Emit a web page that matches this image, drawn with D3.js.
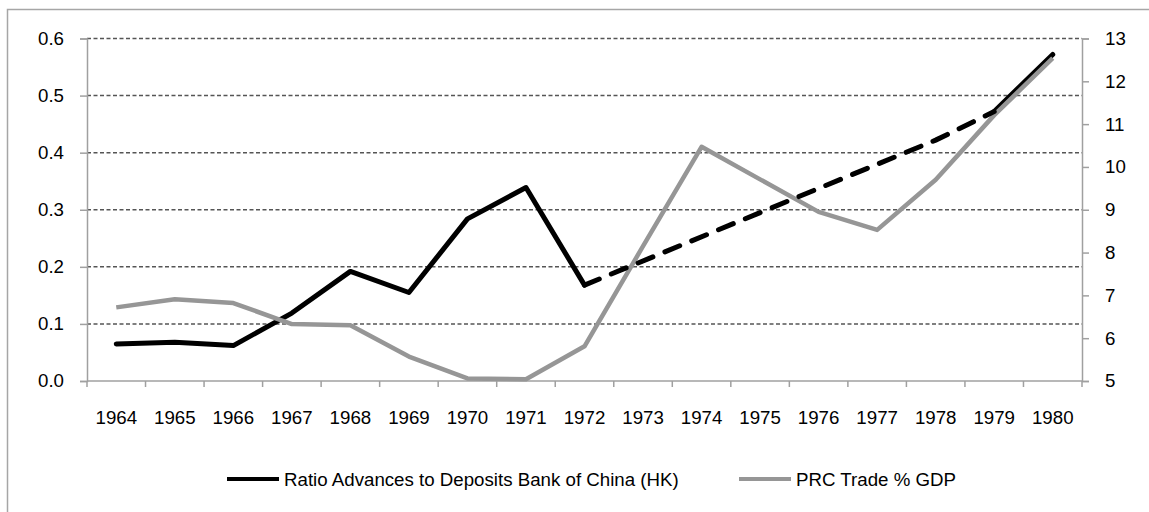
<!DOCTYPE html>
<html>
<head>
<meta charset="utf-8">
<script src="https://cdn.jsdelivr.net/npm/d3@7"></script>
<style>
  body { margin: 0; background: #fff; }
  text { font-family: "Liberation Sans", Arial, sans-serif; font-size: 18.7px; fill: #000; }
</style>
</head>
<body>
<div id="chart"></div>
<script>
// Data
const years = ["1964","1965","1966","1967","1968","1969","1970","1971","1972","1973","1974","1975","1976","1977","1978","1979","1980"];
const ratioAdvances = [0.065, 0.068, 0.062, 0.119, 0.192, 0.155, 0.284, 0.339, 0.168, null, null, null, null, null, 0.422, 0.472, 0.572];
const prcTrade = [6.72, 6.91, 6.82, 6.33, 6.30, 5.57, 5.06, 5.04, 5.81, 8.15, 10.47, 9.71, 8.95, 8.53, 9.70, 11.21, 12.54];
const leftTicks = [0, 0.1, 0.2, 0.3, 0.4, 0.5, 0.6];
const rightTicks = [5, 6, 7, 8, 9, 10, 11, 12, 13];
const dashedFrom = "1972", dashedTo = "1979";
const seriesNames = ["Ratio Advances to Deposits Bank of China (HK)", "PRC Trade % GDP"];

const W = 1149, H = 512;
const margin = { top: 38.5, right: 67, bottom: 131, left: 87 };

const svg = d3.select("#chart").append("svg")
  .attr("width", W).attr("height", H);

// outer chart border
svg.append("rect")
  .attr("x", 7.5).attr("y", 9.5)
  .attr("width", 1160).attr("height", 520)
  .attr("fill", "none").attr("stroke", "#a6a6a6").attr("stroke-width", 1.5);

const x = d3.scaleBand().domain(years)
  .range([margin.left, W - margin.right]);
const yL = d3.scaleLinear().domain([0, 0.6])
  .range([H - margin.bottom, margin.top]);
const yR = d3.scaleLinear().domain([5, 13])
  .range([H - margin.bottom, margin.top]);

// dashed gridlines
svg.append("g")
  .selectAll("line")
  .data(leftTicks.filter(d => d > 0))
  .enter().append("line")
    .attr("x1", margin.left).attr("x2", W - margin.right)
    .attr("y1", d => yL(d)).attr("y2", d => yL(d))
    .attr("stroke", "#555").attr("stroke-width", 1.5)
    .attr("stroke-dasharray", "4,2.5");

// left axis
const axL = svg.append("g")
  .attr("transform", `translate(${margin.left},0)`)
  .call(d3.axisLeft(yL).tickValues(leftTicks).tickFormat(d3.format(".1f")).tickSize(7).tickPadding(16));
// right axis
const axR = svg.append("g")
  .attr("transform", `translate(${W - margin.right},0)`)
  .call(d3.axisRight(yR).tickValues(rightTicks).tickSize(7).tickPadding(16));
// bottom axis, ticks between categories
const axB = svg.append("g")
  .attr("transform", `translate(0,${H - margin.bottom})`)
  .call(d3.axisBottom(x).tickSize(0).tickPadding(30));

svg.append("g")
  .selectAll("line")
  .data(years.concat(["end"]))
  .enter().append("line")
    .attr("x1", (d, i) => margin.left + i * x.step())
    .attr("x2", (d, i) => margin.left + i * x.step())
    .attr("y1", H - margin.bottom).attr("y2", H - margin.bottom + 6)
    .attr("stroke", "#a0a0a0").attr("stroke-width", 1.5);

[axL, axR, axB].forEach(a => {
  a.select(".domain").attr("stroke", "#a0a0a0").attr("stroke-width", 1.5);
  a.selectAll(".tick line").attr("stroke", "#a0a0a0").attr("stroke-width", 1.5);
  a.selectAll("text").style("font-size", "18.7px").attr("fill", "#000");
});
axB.select(".domain").attr("d", `M${margin.left},0H${W - margin.right}`);

const cx = d => x(d.year) + x.bandwidth() / 2;
const blackData = years.map((yr, i) => ({ year: yr, v: ratioAdvances[i] }));
const grayData = years.map((yr, i) => ({ year: yr, v: prcTrade[i] }));

// solid black parts
const solidLine = d3.line()
  .defined(d => d.v != null && (d.year <= dashedFrom || d.year >= dashedTo))
  .x(cx).y(d => yL(d.v));
svg.append("path")
  .datum(blackData)
  .attr("d", solidLine)
  .attr("fill", "none").attr("stroke", "#000").attr("stroke-width", 5)
  .attr("stroke-linejoin", "round").attr("stroke-linecap", "round");

// gray series
svg.append("path")
  .datum(grayData)
  .attr("d", d3.line().x(cx).y(d => yR(d.v)))
  .attr("fill", "none").attr("stroke", "#969696").attr("stroke-width", 4.5)
  .attr("stroke-linejoin", "round");

// dashed black part across the gap
svg.append("path")
  .datum(blackData.filter(d => d.v != null && d.year >= dashedFrom && d.year <= dashedTo))
  .attr("d", d3.line().x(cx).y(d => yL(d.v)))
  .attr("fill", "none").attr("stroke", "#000").attr("stroke-width", 5)
  .attr("stroke-dasharray", "16,13").attr("stroke-linecap", "round");

// legend
const legend = [
  { name: seriesNames[0], color: "#000", x: 227 },
  { name: seriesNames[1], color: "#969696", x: 739 }
];
const lg = svg.append("g").selectAll("g").data(legend).enter().append("g")
  .attr("transform", d => `translate(${d.x},479)`);
lg.append("line")
  .attr("x1", 0).attr("x2", 52).attr("y1", 0).attr("y2", 0)
  .attr("stroke", d => d.color).attr("stroke-width", 4);
lg.append("text")
  .attr("x", 57).attr("dy", "0.35em")
  .text(d => d.name);
</script>
</body>
</html>
